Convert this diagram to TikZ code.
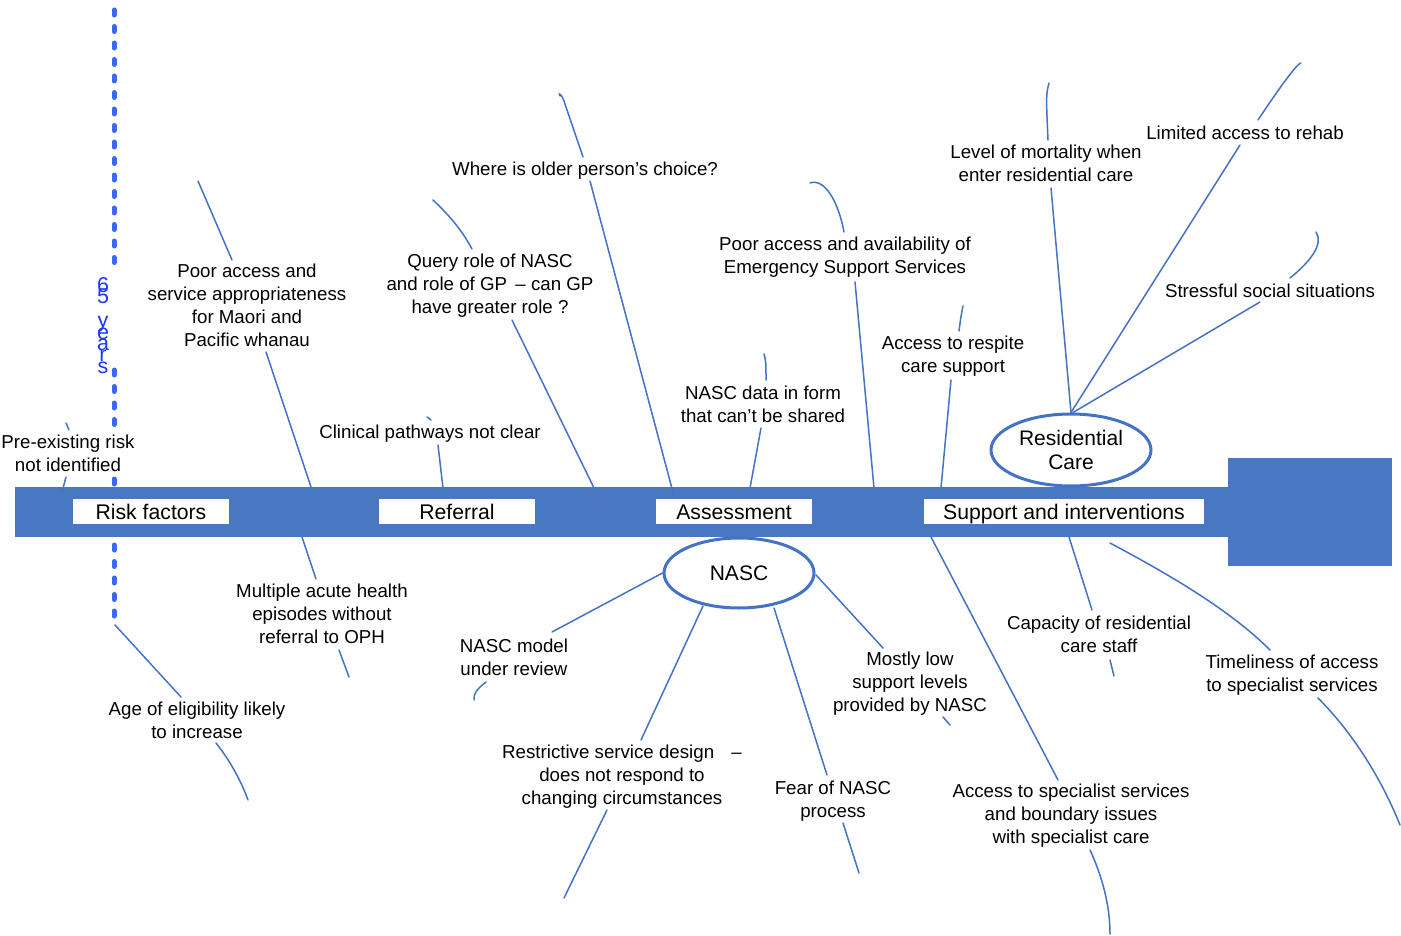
\documentclass[tikz,border=0pt]{standalone}
\usepackage{fontspec}
\setmainfont{Liberation Sans}
\usetikzlibrary{shapes.geometric}
\definecolor{spine}{RGB}{71,120,193}
\definecolor{lbl}{RGB}{68,114,196}
\definecolor{dotc}{RGB}{58,104,242}
\definecolor{yrc}{RGB}{30,55,255}
\begin{document}
\begin{tikzpicture}[x=1pt,y=-1pt,
  txt/.style={font=\fontsize{18.7}{23}\selectfont, align=center, inner sep=0pt, text=black},
  ln/.style={draw=lbl, line width=1.5pt, line cap=round},
  cat/.style={fill=white, font=\fontsize{21.2}{24}\selectfont, minimum width=156pt, minimum height=25pt, inner sep=0pt, text height=15.3pt, text depth=0pt},
  ell/.style={ellipse, draw=lbl, line width=3pt, fill=white, inner sep=0pt, font=\fontsize{21}{24.5}\selectfont, align=center},
  yrs/.style={text=yrc, font=\fontsize{21.5}{21.5}\selectfont, inner sep=0pt, anchor=base},
  dotl/.style={dotc, line width=5pt, line cap=round, dash pattern=on 5pt off 11.5pt}]
\useasboundingbox (0,0) rectangle (1401,936);
\fill[white] (0,0) rectangle (1401,936);

% dotted age line
\draw[dotl] (114,10) -- (114,268);
\draw[dotl] (114,370) -- (114,426);
\draw[dotl] (114,479) -- (114,616);
\foreach \c/\yy in {6/292,5/304,y/327,e/339,a/350,r/361.5,s/373}
  \node[yrs] (yr\c) at (103,\yy) {\c};

% spine and head
\fill[spine] (15,487) rectangle (1230,537);
\fill[spine] (1228,458) rectangle (1392,566);

% category labels
\node[cat] (risk) at (151,511.5) {Risk factors};
\node[cat] (ref) at (457,511.5) {Referral};
\node[cat] (ass) at (734,511.5) {Assessment};
\node[cat, minimum width=280pt] (sup) at (1064,511.5) {Support and interventions};

% ellipses
\node[ell, minimum width=160pt, minimum height=72pt] (res) at (1071,450) {Residential\\Care};
\node[ell, minimum width=150pt, minimum height=70pt] (nasc) at (739,573) {NASC};

% texts
\node[txt, fill=white] (pre) at (68,453.5) {Pre-existing risk\\not identified};
\node[txt] (poor) at (247,305.5) {Poor access and\\service appropriateness\\for Maori and\\Pacific whanau};
\node[txt] (multi) at (322,614) {Multiple acute health\\episodes without\\referral to OPH};
\node[txt] (age) at (197,720.5) {Age of eligibility likely\\to increase};
\node[txt] (query) at (490,286) {Query role of NASC\\and role of GP \,– can GP\\have greater role ?};
\node[txt] (where) at (585,171) {Where is older person’s choice?};
\node[txt] (clin) at (430,434) {Clinical pathways not clear};
\node[txt] (ndata) at (763,404.5) {NASC data in form\\that can’t be shared};
\node[txt] (ess) at (845,257) {Poor access and availability of\\Emergency Support Services};
\node[txt] (resp) at (953,356) {Access to respite\\care support};
\node[txt] (mort) at (1046,163.5) {Level of mortality when\\enter residential care};
\node[txt] (rehab) at (1245,133) {Limited access to rehab};
\node[txt] (stress) at (1270,291) {Stressful social situations};
\node[txt] (nmodel) at (514,657.5) {NASC model\\under review};
\node[txt] (restr) at (622,777) {Restrictive service design \hspace{12pt}–\\does not respond to\\changing circumstances};
\node[txt] (fear) at (833,801.5) {Fear of NASC\\process};
\node[txt] (mostly) at (910,684) {Mostly low\\support levels\\provided by NASC};
\node[txt] (spec) at (1071,816) {Access to specialist services\\and boundary issues\\with specialist care};
\node[txt] (capac) at (1099,634.5) {Capacity of residential\\care staff};
\node[txt] (timel) at (1292,675.5) {Timeliness of access\\to specialist services};

% connectors
\draw[ln] (66,423) coordinate (preT1) -- (69,430) coordinate (preT2);
\draw[ln] (66,477) coordinate (preB1) -- (62,492) coordinate (preB2);

\draw[ln] (198,181) coordinate (poT) -- (232,260) coordinate (poA);
\draw[ln] (266,352) coordinate (poB) -- (311,487) coordinate (poS);
\draw[ln] (302,537) coordinate (muS) -- (316,579) coordinate (muA);
\draw[ln] (339,650) coordinate (muB) -- (349,677) coordinate (muE);

\draw[ln] (115,625) coordinate (agS) -- (181,697) coordinate (agA);
\draw[ln] (216,743) coordinate (agB) .. controls (228,758) and (240,778) .. (248,800) coordinate (agE);

\draw[ln] (433,200) coordinate (quT) .. controls (448,214) and (462,230) .. (472,249) coordinate (quA);
\draw[ln] (512,320) coordinate (quB) -- (594,488) coordinate (quS);

\draw[ln] (560,96) coordinate (whT) .. controls (558,92) and (562,94) .. (565,104) -- (583,157) coordinate (whA);
\draw[ln] (590,181) coordinate (whB) -- (674,496) coordinate (whS);

\draw[ln] (427,417) coordinate (clT) -- (431,420) coordinate (clA);
\draw[ln] (438,445) coordinate (clB) -- (443,488) coordinate (clS);

\draw[ln] (764,354) coordinate (ndT) .. controls (766,362) .. (766,380) coordinate (ndA);
\draw[ln] (761,428) coordinate (ndB) -- (750,488) coordinate (ndS);

\draw[ln] (810,183) coordinate (esT) .. controls (824,178) and (838,200) .. (844,232) coordinate (esA);
\draw[ln] (855,282) coordinate (esB) -- (874,488) coordinate (esS);

\draw[ln] (963,306) coordinate (reT) .. controls (961,316) .. (959,331) coordinate (reA);
\draw[ln] (951,380) coordinate (reB) -- (941,488) coordinate (reS);

\draw[ln] (1049,83) coordinate (moT) .. controls (1046,95) .. (1048,140) coordinate (moA);
\draw[ln] (1051,188) coordinate (moB) -- (res.north) ;

\draw[ln] (1301,63) coordinate (rhT) .. controls (1296,64) and (1274,96) .. (1258,120) coordinate (rhA);
\draw[ln] (1240,145) coordinate (rhB) -- (res.north);

\draw[ln] (1316,232) coordinate (stT) .. controls (1324,244) and (1310,262) .. (1290,278) coordinate (stA);
\draw[ln] (1260,302) coordinate (stB) -- ([xshift=2pt]res.north);

\draw[ln] (nasc.west) -- (552,632) coordinate (nmA);
\draw[ln] (486,682) coordinate (nmB) .. controls (478,688) and (473,694) .. (474,700) coordinate (nmE);

\draw[ln] (703,606) coordinate (rsS) -- (641,740) coordinate (rsA);
\draw[ln] (607,810) coordinate (rsB) -- (564,898) coordinate (rsE);

\draw[ln] (774,608) coordinate (feS) -- (827,775) coordinate (feA);
\draw[ln] (843,823) coordinate (feB) -- (859,873) coordinate (feE);

\draw[ln] (816,575) coordinate (mlS) -- (883,648) coordinate (mlA);
\draw[ln] (943,717) coordinate (mlB) -- (950,725) coordinate (mlE);

\draw[ln] (931,537) coordinate (spS) -- (1058,780) coordinate (spA);
\draw[ln] (1090,850) coordinate (spB) .. controls (1102,876) and (1110,905) .. (1110,934) coordinate (spE);

\draw[ln] (1069,537) coordinate (caS) -- (1092,610) coordinate (caA);
\draw[ln] (1110,660) coordinate (caB) -- (1114,676) coordinate (caE);

\draw[ln] (1110,543) coordinate (tiS) .. controls (1170,575) and (1230,610) .. (1270,650) coordinate (tiA);
\draw[ln] (1318,698) coordinate (tiB) .. controls (1350,730) and (1380,775) .. (1400,825) coordinate (tiE);
\end{tikzpicture}
\end{document}
